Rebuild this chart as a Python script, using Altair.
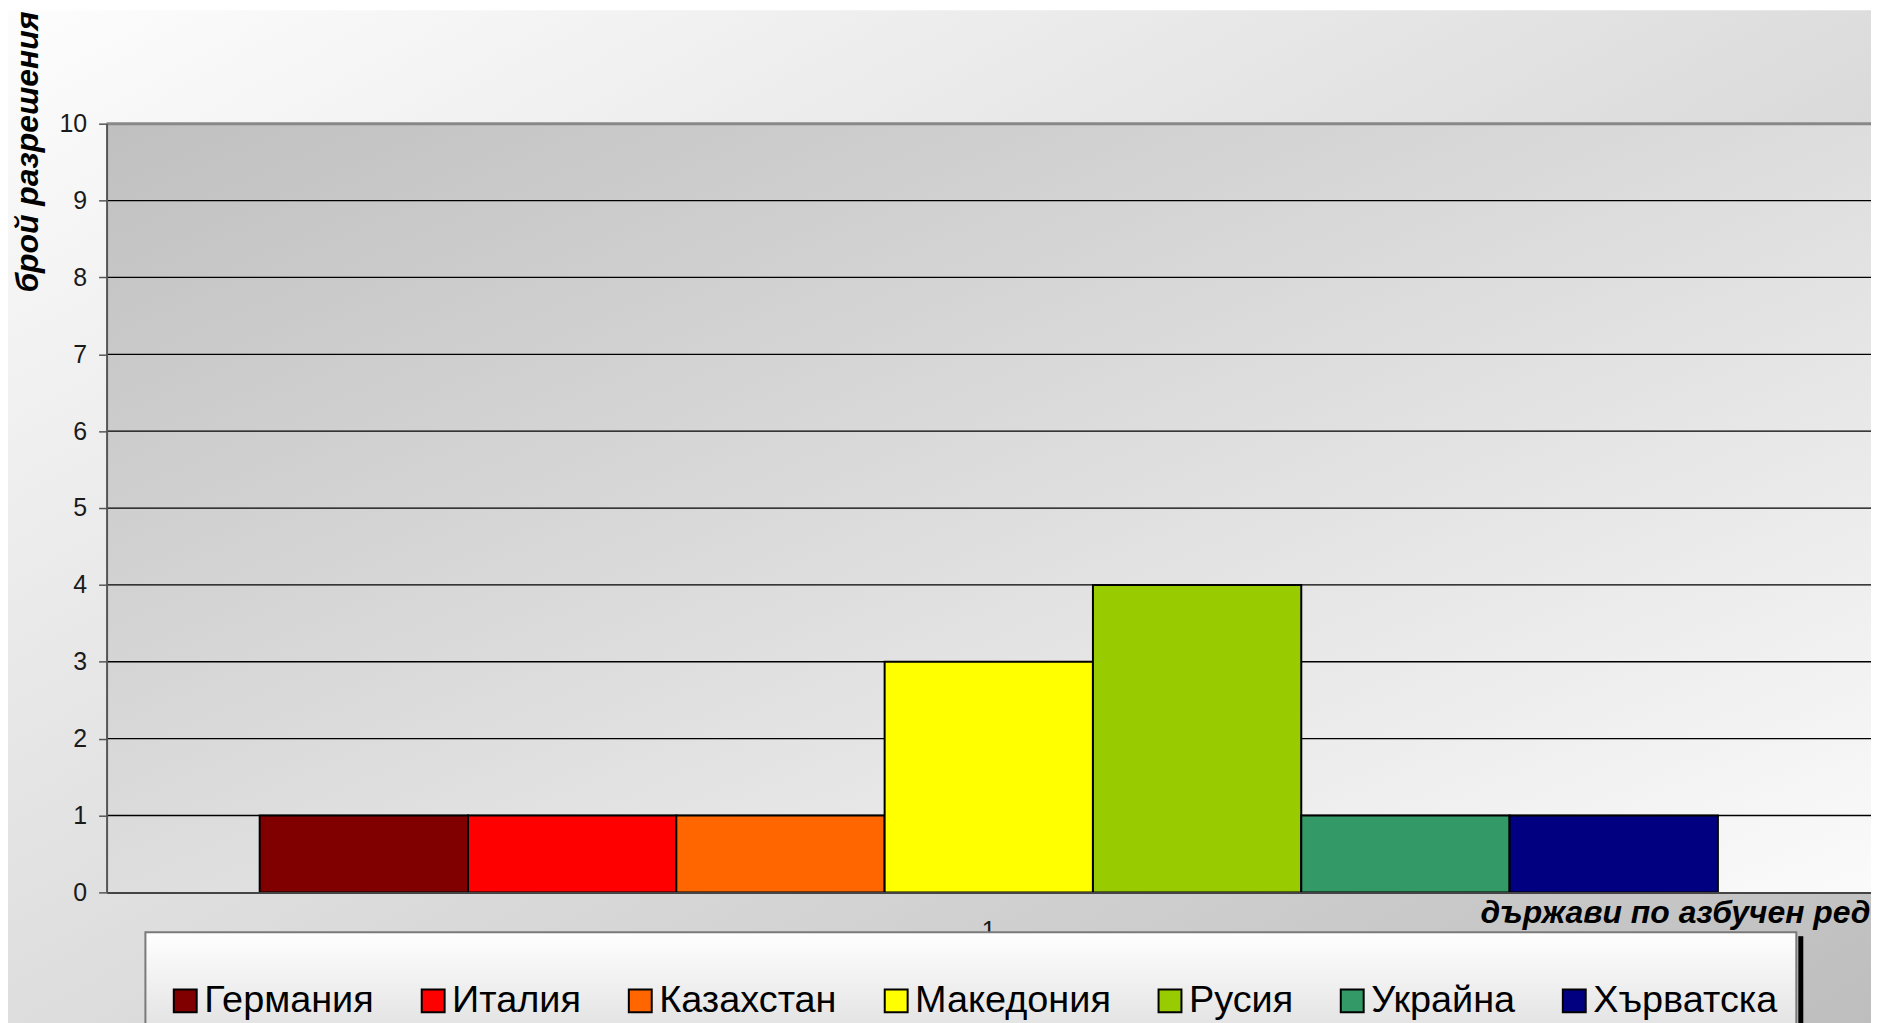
import altair as alt
import pandas as pd

countries = ["Германия", "Италия", "Казахстан", "Македония", "Русия", "Украйна", "Хърватска"]
values = [1, 1, 1, 3, 4, 1, 1]
colors = ["#800000", "#ff0000", "#ff6600", "#ffff00", "#99cc00", "#339966", "#000080"]
group_label = "1"
y_ticks = list(range(0, 11))
grid_values = list(range(1, 10))
y_title = "брой разрешения"
x_title = "държави по азбучен ред"

W = 1772
H = 772
PAD_L, PAD_T, PAD_B = 99, 114, 129
FONT = "Liberation Sans"

df = pd.DataFrame({"country": countries, "value": values, "grp": [group_label] * len(countries)})
one = pd.DataFrame({"grp": [group_label]})
grid_df = pd.DataFrame({"value": grid_values})

yscale = alt.Scale(domain=[0, 10], nice=False, zero=True)
xscale = alt.Scale(paddingOuter=0.105, paddingInner=0)

yaxis = alt.Axis(
    values=y_ticks, format="d", grid=False, zindex=1,
    labelFontSize=25, labelFont=FONT, labelColor="#1a1a1a", labelPadding=12,
    tickSize=8, tickColor="#555555", tickWidth=1.5,
    domainColor="#555555", domainWidth=2,
    title=y_title, titleFont=FONT, titleFontSize=32, titleFontWeight="bold",
    titleFontStyle="italic", titleColor="black", titleAngle=270,
    titleX=-79, titleY=28, titleAlign="center", titleBaseline="middle",
)
xaxis = alt.Axis(
    labels=False, ticks=False, grid=False, zindex=1,
    domainColor="#444444", domainWidth=2,
    title=x_title, titleFont=FONT, titleFontSize=32, titleFontWeight="bold",
    titleFontStyle="italic", titleColor="black",
    titleX=1771, titleY=30, titleAlign="right", titleBaseline="alphabetic",
)

outer_grad = alt.LinearGradient(
    gradient="linear", x1=0, y1=0, x2=1, y2=1,
    stops=[alt.GradientStop(color="#fdfdfd", offset=0), alt.GradientStop(color="#bdbdbd", offset=1)],
)
plot_grad = alt.LinearGradient(
    gradient="linear", x1=0, y1=0, x2=1, y2=1,
    stops=[alt.GradientStop(color="#c0c0c0", offset=0), alt.GradientStop(color="#fbfbfb", offset=1)],
)
legend_grad = alt.LinearGradient(
    gradient="linear", x1=0, y1=0, x2=0, y2=1,
    stops=[alt.GradientStop(color="#ffffff", offset=0), alt.GradientStop(color="#dcdcdc", offset=1)],
)

outer_bg = alt.Chart(one).mark_rect(fill=outer_grad).encode(
    x=alt.value(-PAD_L), x2=alt.value(W + 20), y=alt.value(-PAD_T), y2=alt.value(H + PAD_B + 20)
)
plot_bg = alt.Chart(one).mark_rect(fill=plot_grad).encode(
    x=alt.value(0), x2=alt.value(W + 20), y=alt.value(0), y2=alt.value(H)
)
grid = alt.Chart(grid_df).mark_rule(color="black", strokeWidth=1.3).encode(
    y=alt.Y("value:Q", scale=yscale, axis=yaxis), x=alt.value(0), x2=alt.value(W + 20)
)
top_border = alt.Chart(one).mark_rule(color="#888888", strokeWidth=3).encode(
    y=alt.datum(10, scale=yscale), x=alt.value(0), x2=alt.value(W + 20)
)
bars = alt.Chart(df).mark_bar(stroke="black", strokeWidth=2).encode(
    x=alt.X("grp:N", scale=xscale, axis=xaxis),
    xOffset=alt.XOffset("country:N", sort=countries, scale=alt.Scale(paddingInner=0, paddingOuter=0)),
    y=alt.Y("value:Q", scale=yscale, axis=yaxis),
    color=alt.Color(
        "country:N", sort=countries,
        scale=alt.Scale(domain=countries, range=colors),
        legend=alt.Legend(
            title=None, orient="none", legendX=60, legendY=862, direction="horizontal",
            symbolType="square", symbolSize=529, symbolStrokeColor="black", symbolStrokeWidth=2,
            symbolOpacity=1, labelFont=FONT, labelFontSize=38, labelColor="black",
            labelOffset=0, columnPadding=40, labelLimit=600, padding=0,
        ),
    ),
)
cat_label = alt.Chart(one).mark_text(
    font=FONT, fontSize=25, color="#1a1a1a", baseline="alphabetic", align="center"
).encode(x=alt.X("grp:N", scale=xscale, axis=xaxis), y=alt.value(819), text="grp:N")

legend_box = alt.Chart(one).mark_rect(fill=legend_grad, stroke="#7a7a7a", strokeWidth=2).encode(
    x=alt.value(39), x2=alt.value(1697), y=alt.value(812), y2=alt.value(H + PAD_B + 30)
)
shadow = alt.Chart(one).mark_rect(fill="black").encode(
    x=alt.value(1699), x2=alt.value(1704), y=alt.value(816), y2=alt.value(H + PAD_B + 30)
)

chart = alt.layer(
    outer_bg, plot_bg, grid, top_border, bars, cat_label, legend_box, shadow
).properties(
    width=W, height=H,
    autosize=alt.AutoSizeParams(type="none"),
    padding={"left": PAD_L, "top": PAD_T, "right": 0, "bottom": PAD_B},
).configure_view(strokeOpacity=0)

chart.save("out.html", embed_options={"renderer": "svg", "actions": False})
